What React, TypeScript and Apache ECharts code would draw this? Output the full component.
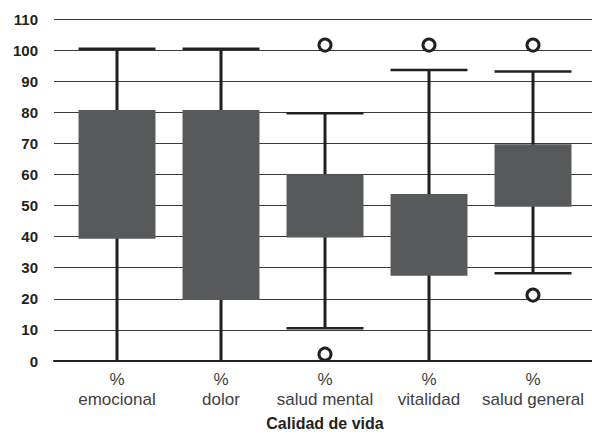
import React, { useEffect, useRef } from "react";
import * as echarts from "echarts";

const categories = ["emocional", "dolor", "salud mental", "vitalidad", "salud general"];
const whiskerLow = [0, 0, 10.5, 0, 28.2];
const boxLow = [39.3, 19.6, 39.7, 27.4, 49.6];
const boxHigh = [80.7, 80.7, 60.1, 53.7, 69.7];
const whiskerHigh = [100.4, 100.4, 79.7, 93.6, 93.1];
const outliers: [string, number][] = [
  ["salud mental", 101.6],
  ["salud mental", 2.2],
  ["vitalidad", 101.6],
  ["salud general", 101.6],
  ["salud general", 21.2],
];
const yTicks = { min: 0, max: 110, interval: 10 };

const FONT = "'Liberation Sans', Arial, Helvetica, sans-serif";
const DARK = "#231f20";
const BOX = "#58595b";

export default function App() {
  const ref = useRef<HTMLDivElement>(null);
  useEffect(() => {
    if (!ref.current) return;
    const chart = echarts.init(ref.current, null, { renderer: "svg" });
    const boxData = categories.map((_, i) => [i, whiskerLow[i], boxLow[i], boxHigh[i], whiskerHigh[i]]);
    chart.setOption({
      animation: false,
      backgroundColor: "#ffffff",
      grid: [
        { left: 54, right: 0, top: 19, bottom: 73, containLabel: false, outerBoundsMode: "none" },
        { left: 65, width: 520, top: 19, bottom: 73, containLabel: false, outerBoundsMode: "none" },
      ],
      xAxis: [
        {
          gridIndex: 0,
          type: "value",
          min: 0,
          max: 1,
          axisLine: { show: true, onZero: false, lineStyle: { color: DARK, width: 2 } },
          axisTick: { show: false },
          axisLabel: { show: false },
          splitLine: { show: false },
        },
        {
          gridIndex: 1,
          type: "category",
          data: categories,
          boundaryGap: true,
          axisLine: { show: false },
          axisTick: { show: false },
          axisLabel: {
            formatter: (v: string) => "%\n" + v,
            fontFamily: FONT,
            fontSize: 17,
            color: "#414042",
            lineHeight: 20,
            margin: 8,
            interval: 0,
          },
          name: "Calidad de vida",
          nameLocation: "middle",
          nameGap: 54,
          nameTextStyle: { fontFamily: FONT, fontSize: 16, fontWeight: "bold", color: DARK },
        },
      ],
      yAxis: [
        {
          gridIndex: 0,
          type: "value",
          min: yTicks.min,
          max: yTicks.max,
          interval: yTicks.interval,
          axisLine: { show: false },
          axisTick: { show: false },
          axisLabel: {
            fontFamily: FONT,
            fontSize: 15,
            fontWeight: "bold",
            color: DARK,
            margin: 16,
          },
          splitLine: { show: true, lineStyle: { color: "#3a3a3a", width: 1 } },
        },
        {
          gridIndex: 1,
          type: "value",
          min: yTicks.min,
          max: yTicks.max,
          show: false,
        },
      ],
      series: [
        {
          type: "custom",
          xAxisIndex: 1,
          yAxisIndex: 1,
          encode: { x: 0, y: [1, 2, 3, 4] },
          data: boxData,
          renderItem: (params: any, api: any) => {
            const idx = api.value(0);
            const pMin = api.coord([idx, api.value(1)]);
            const pQ1 = api.coord([idx, api.value(2)]);
            const pQ3 = api.coord([idx, api.value(3)]);
            const pMax = api.coord([idx, api.value(4)]);
            const bw = api.size([1, 0])[0] * 0.74;
            const cx = pMin[0];
            const lineStyle = { stroke: DARK, lineWidth: 3 };
            const capStyle = { stroke: DARK, lineWidth: 2.5 };
            return {
              type: "group",
              children: [
                { type: "line", shape: { x1: cx, y1: pMax[1], x2: cx, y2: pMin[1] }, style: lineStyle },
                { type: "line", shape: { x1: cx - bw / 2, y1: pMax[1], x2: cx + bw / 2, y2: pMax[1] }, style: capStyle },
                ...(api.value(1) > 0
                  ? [{ type: "line", shape: { x1: cx - bw / 2, y1: pMin[1], x2: cx + bw / 2, y2: pMin[1] }, style: capStyle }]
                  : []),
                {
                  type: "rect",
                  shape: { x: cx - bw / 2, y: pQ3[1], width: bw, height: pQ1[1] - pQ3[1] },
                  style: { fill: BOX },
                },
              ],
            };
          },
        },
        {
          type: "scatter",
          xAxisIndex: 1,
          yAxisIndex: 1,
          data: outliers,
          symbol: "circle",
          symbolSize: 12,
          itemStyle: { color: "#ffffff", borderColor: DARK, borderWidth: 3, opacity: 1 },
          z: 5,
        },
      ],
    });
    return () => chart.dispose();
  }, []);
  return <div ref={ref} style={{ position: "fixed", left: 0, top: 0, width: 592, height: 434 }} />;
}
